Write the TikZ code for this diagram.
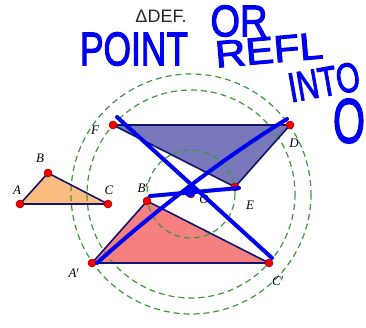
\documentclass[tikz,border=0pt]{standalone}
\usepackage{fontspec}
\usepackage{graphicx}
\setmainfont{Liberation Serif}
\newfontfamily\hdrfont{Liberation Sans}
\newfontfamily\handfont{Liberation Sans}[FakeBold=2.5]
\definecolor{edgec}{HTML}{14146E}
\definecolor{orangef}{HTML}{FCBD80}
\definecolor{bluef}{HTML}{7878BA}
\definecolor{redf}{HTML}{F48080}
\definecolor{circc}{HTML}{3A9A3A}
\definecolor{dotc}{HTML}{F00000}
\definecolor{ink}{HTML}{0000F0}
\tikzset{
  tri/.style={draw=edgec, line width=1.6pt, line join=round},
  circ/.style={draw=circc, line width=1.2pt, dash pattern=on 6pt off 4pt},
  vtx/.style={circle, fill=dotc, draw=red!60!black, line width=0.5pt, minimum size=8pt, inner sep=0pt},
  lab/.style={font=\fontsize{13}{13}\selectfont\itshape, inner sep=0pt},
  hand/.style={text=ink, inner sep=0pt},
  pen/.style={draw=ink, line width=4pt, line cap=round},
}
\begin{document}
\begin{tikzpicture}[x=1pt,y=-1pt]
\useasboundingbox (0,0) rectangle (366,327);
% points
\coordinate (O) at (191,194);
\coordinate (A) at (20,204);
\coordinate (B) at (48,173);
\coordinate (C) at (108,204);
\coordinate (D) at (290,125);
\coordinate (E) at (235,187);
\coordinate (F) at (113,125);
\coordinate (A1) at (92,263);
\coordinate (B1) at (147,201);
\coordinate (C1) at (269,263);
% fills
\fill[orangef] (A) -- (B) -- (C) -- cycle;
\fill[bluef] (F) -- (D) -- (E) -- cycle;
\fill[redf] (A1) -- (B1) -- (C1) -- cycle;
% circles
\draw[circ] (O) circle[radius=120];
\draw[circ] (O) circle[radius=104];
\draw[circ] (O) circle[radius=44];
% edges
\draw[tri] (A) -- (B) -- (C) -- cycle;
\draw[tri] (F) -- (D) -- (E) -- cycle;
\draw[tri] (A1) -- (B1) -- (C1) -- cycle;
% vertices
\foreach \p in {A,B,C,D,E,F,A1,B1,C1,O} \node[vtx] (v\p) at (\p) {};
% labels
\node[lab] (lA) at (17,190) {A};
\node[lab] (lB) at (40,158) {B};
\node[lab] (lC) at (109,190) {C};
\node[lab] (lF) at (95,130) {F};
\node[lab] (lD) at (294,143) {D};
\node[lab] (lE) at (250,205) {E};
\node[lab] (lO) at (204,199) {O};
\node[lab] (lB1) at (143,188) {B$'$};
\node[lab] (lA1) at (74,273) {A$'$};
\node[lab] (lC1) at (278,281) {C$'$};
% header
\node[inner sep=0pt, text=black!85] (hdr) at (161,16) {\hdrfont\fontsize{18}{18}\selectfont ΔDEF.};
% blue pen strokes
\coordinate (p1) at (117,117);
\coordinate (p2) at (272,258);
\coordinate (p3) at (287,119);
\coordinate (p4) at (97,263);
\coordinate (p5) at (150,196);
\coordinate (p6) at (239,188);
\draw[pen] (p1) -- (p2);
\draw[pen] (p3) .. controls (220,160) and (150,215) .. (p4);
\draw[pen] (p5) -- (p6);
\fill[ink] (190,191) circle[radius=6];
% handwriting
\node[hand] (hOR) at (239,21) {\resizebox{57pt}{31pt}{\handfont OR}};
\node[hand] (hPOINT) at (134,49) {\resizebox{108pt}{33pt}{\handfont POINT}};
\node[hand, rotate=5] (hREFL) at (269,50) {\resizebox{108pt}{26pt}{\handfont REFL}};
\node[hand, rotate=10] (hINTO) at (324,82) {\resizebox{72pt}{29pt}{\handfont INTO}};
\node[hand] (hO) at (349,121) {\resizebox{32pt}{44pt}{\handfont O}};
\end{tikzpicture}
\end{document}
